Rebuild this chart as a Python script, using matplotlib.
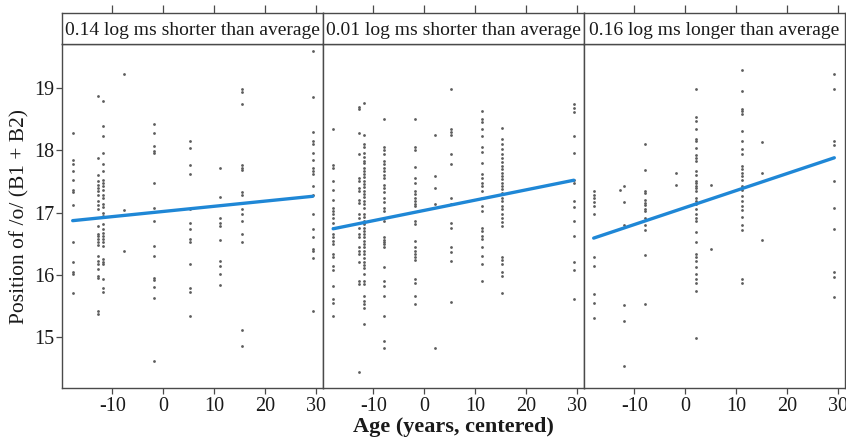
import matplotlib
matplotlib.use("Agg")
import matplotlib.pyplot as plt

plt.rcParams['font.family'] = ['Liberation Serif', 'DejaVu Serif']
plt.rcParams['axes.unicode_minus'] = False

panel_titles = ["0.14 log ms shorter than average",
                "0.01 log ms shorter than average",
                "0.16 log ms longer than average"]

# panel 1: speaker ages and the values read in each column
p1_ages = [-17.8, -12.9, -11.8, -7.8, -1.9, 5.3, 11.2, 15.5, 29.4]
p1_vals = [
    [18.28, 17.84, 17.78, 17.67, 17.53, 17.37, 17.33, 17.12, 16.52, 16.20, 16.05, 16.01, 15.71],
    [18.87, 17.88, 17.61, 17.51, 17.45, 17.40, 17.35, 17.29, 17.19, 17.12, 17.05, 16.78, 16.65,
     16.62, 16.57, 16.52, 16.48, 16.30, 16.22, 16.18, 16.09, 15.98, 15.95, 15.42, 15.37],
    [18.79, 18.39, 18.23, 17.96, 17.78, 17.67, 17.53, 17.48, 17.43, 17.37, 17.29, 17.24, 17.13,
     17.09, 17.00, 16.95, 16.81, 16.73, 16.67, 16.62, 16.57, 16.52, 16.46, 16.25, 16.21, 16.17,
     15.93, 15.79, 15.73],
    [19.23, 17.04, 16.38],
    [18.42, 18.28, 18.07, 17.99, 17.95, 17.48, 17.08, 16.87, 16.46, 16.30, 15.95, 15.91, 15.81,
     15.62, 14.62],
    [18.15, 18.04, 17.76, 17.62, 17.05, 16.84, 16.73, 16.57, 16.53, 16.18, 15.79, 15.73, 15.34],
    [17.72, 17.25, 16.92, 16.84, 16.78, 16.56, 16.22, 16.14, 16.02, 15.84],
    [18.99, 18.94, 18.75, 17.76, 17.72, 17.68, 17.33, 17.29, 17.05, 16.97, 16.87, 16.66, 16.53,
     15.11, 14.86],
    [19.59, 18.85, 18.30, 18.15, 18.11, 17.96, 17.84, 17.72, 17.67, 17.62, 17.43, 17.29, 16.97,
     16.73, 16.60, 16.41, 16.39, 16.27, 15.41],
]

# panel 2
p2_ages = [-17.9, -12.9, -11.9, -8.0, -1.9, 2.2, 5.2, 11.3, 15.2, 29.4]
p2_vals = [
    [18.35, 17.76, 17.72, 17.51, 17.37, 17.21, 17.07, 17.03, 16.97, 16.92, 16.84, 16.76, 16.65,
     16.60, 16.54, 16.49, 16.33, 16.28, 16.14, 16.07, 15.82, 15.61, 15.55, 15.33],
    [18.70, 18.66, 18.28, 17.94, 17.56, 17.51, 17.40, 17.35, 17.21, 17.16, 16.97, 16.92, 16.84,
     16.76, 16.65, 16.60, 16.44, 16.38, 16.33, 16.20, 15.90, 15.85, 14.43],
    [18.76, 18.24, 18.10, 18.05, 17.95, 17.89, 17.83, 17.79, 17.72, 17.67, 17.62, 17.57, 17.50,
     17.46, 17.41, 17.34, 17.30, 17.25, 17.19, 17.13, 17.08, 16.98, 16.93, 16.87, 16.81, 16.76,
     16.70, 16.66, 16.60, 16.55, 16.49, 16.44, 16.38, 16.33, 16.27, 16.21, 16.16, 16.11, 16.01,
     15.90, 15.85, 15.66, 15.58, 15.53, 15.47, 15.21],
    [18.51, 18.05, 18.00, 17.94, 17.83, 17.78, 17.72, 17.67, 17.61, 17.56, 17.45, 17.40, 17.33,
     17.24, 17.17, 17.07, 17.03, 16.92, 16.87, 16.60, 16.56, 16.52, 16.49, 16.44, 16.13, 15.90,
     15.82, 15.66, 15.34, 14.94, 14.82],
    [18.50, 18.05, 18.00, 17.73, 17.56, 17.48, 17.35, 17.30, 17.24, 17.19, 17.14, 17.11, 16.87,
     16.82, 16.54, 16.44, 16.38, 16.33, 16.28, 16.23, 15.93, 15.86, 15.66, 15.53],
    [18.25, 17.59, 17.40, 17.14, 14.82],
    [18.98, 18.35, 18.29, 18.24, 17.94, 17.78, 17.24, 17.14, 16.84, 16.76, 16.44, 16.36, 16.22,
     15.56],
    [18.63, 18.50, 18.45, 18.35, 18.23, 18.05, 17.98, 17.80, 17.62, 17.56, 17.48, 17.43, 17.35,
     17.24, 17.11, 17.03, 16.76, 16.71, 16.63, 16.57, 16.44, 16.30, 16.17, 15.90],
    [18.36, 18.18, 18.10, 18.02, 17.94, 17.87, 17.82, 17.75, 17.70, 17.64, 17.59, 17.54, 17.48,
     17.43, 17.38, 17.32, 17.24, 17.19, 17.11, 17.05, 16.98, 16.92, 16.85, 16.78, 16.29, 16.23,
     16.18, 16.04, 15.98, 15.70],
    [18.74, 18.68, 18.62, 18.23, 17.95, 17.53, 17.48, 17.19, 17.09, 16.87, 16.62, 16.20, 16.07,
     15.61],
]

# panel 3
p3_ages = [-18.0, -12.9, -12.1, -8.0, -1.9, 2.1, 5.0, 11.2, 15.0, 29.3]
p3_vals = [
    [17.35, 17.29, 17.23, 17.17, 17.10, 16.97, 16.28, 16.14, 15.69, 15.55, 15.31],
    [17.36],
    [17.43, 17.17, 16.80, 15.52, 15.26, 14.54],
    [18.10, 17.68, 17.35, 17.32, 17.21, 17.16, 17.12, 17.06, 17.02, 16.92, 16.80, 16.72, 16.32,
     15.53],
    [17.63, 17.44],
    [18.99, 18.53, 18.48, 18.35, 18.19, 18.15, 18.04, 17.92, 17.88, 17.83, 17.67, 17.61, 17.51,
     17.47, 17.43, 17.39, 17.34, 17.24, 17.19, 17.13, 17.05, 16.98, 16.92, 16.87, 16.68, 16.53,
     16.33, 16.28, 16.22, 16.12, 16.01, 15.93, 15.86, 15.74, 14.99],
    [17.44, 16.41],
    [19.29, 18.96, 18.67, 18.63, 18.59, 18.31, 18.15, 18.02, 17.94, 17.75, 17.70, 17.64, 17.59,
     17.53, 17.43, 17.36, 17.27, 17.19, 17.11, 17.04, 16.93, 16.80, 16.72, 15.93, 15.86],
    [18.13, 17.64, 16.56],
    [19.23, 18.99, 18.15, 18.09, 17.51, 17.07, 16.73, 16.05, 15.96, 15.65],
]

# fitted lines: intercept at age 0 and slope per year
fit_intercept = [17.018, 17.035, 17.081]
fit_slope = [0.0083, 0.0165, 0.0273]

x_ticks = [-10, 0, 10, 20, 30]
y_ticks = [15, 16, 17, 18, 19]

panels = [(p1_ages, p1_vals), (p2_ages, p2_vals), (p3_ages, p3_vals)]

W, H = 846, 442
fig = plt.figure(figsize=(W / 100, H / 100), dpi=100)

frame_col = '#4a4a4a'
left0, pw = 62, 261
ytop, ybot, stop = 44, 388, 13

for i, (ages, vals) in enumerate(panels):
    x0 = left0 + i * pw
    ax = fig.add_axes([x0 / W, 1 - ybot / H, pw / W, (ybot - ytop) / H])
    xs = [a for a, v in zip(ages, vals) for _ in v]
    ys = [y for v in vals for y in v]
    ax.scatter(xs, ys, s=4, color='#5c5c5c', linewidths=0, zorder=2)
    xa = [min(ages), max(ages)]
    ax.plot(xa, [fit_intercept[i] + fit_slope[i] * a for a in xa],
            color='#1f87d6', lw=2.4, solid_capstyle='round', zorder=3)
    ax.set_xlim(-19.9, 31.4)
    ax.set_ylim(14.18, 19.71)
    ax.set_xticks(x_ticks)
    ax.set_yticks(y_ticks)
    for s in ax.spines.values():
        s.set_color(frame_col)
        s.set_linewidth(1.0)
    ax.tick_params(axis='x', direction='out', length=4.5, width=0.9, color=frame_col,
                   labelsize=14.5, pad=2, labelcolor='#1a1a1a')
    ax.tick_params(axis='y', direction='out', length=4, width=0.9, color=frame_col,
                   labelsize=14.5, pad=1.5, labelcolor='#1a1a1a',
                   left=(i == 0), labelleft=(i == 0), right=(i == 2), labelright=False)
    if i == 0:
        ax.set_ylabel('Position of /o/ (B1 + B2)', fontsize=15.5, labelpad=3,
                      color='#1a1a1a')
    if i == 1:
        ax.set_xlabel('Age (years, centered)', fontsize=16, fontweight='bold', labelpad=1,
                      color='#1a1a1a')

    # strip on top
    sx = fig.add_axes([x0 / W, 1 - ytop / H, pw / W, (ytop - stop) / H])
    sx.set_xlim(-19.9, 31.4)
    sx.set_xticks(x_ticks)
    sx.set_yticks([])
    sx.tick_params(axis='x', bottom=False, labelbottom=False, top=True, labeltop=False,
                   direction='out', length=5.5, width=0.9, color=frame_col)
    for s in sx.spines.values():
        s.set_color(frame_col)
        s.set_linewidth(1.0)
    sx.text(0.5, 0.45, panel_titles[i], transform=sx.transAxes, ha='center', va='center',
            fontsize=14, color='#1a1a1a')

fig.savefig('out.png', dpi=100)
